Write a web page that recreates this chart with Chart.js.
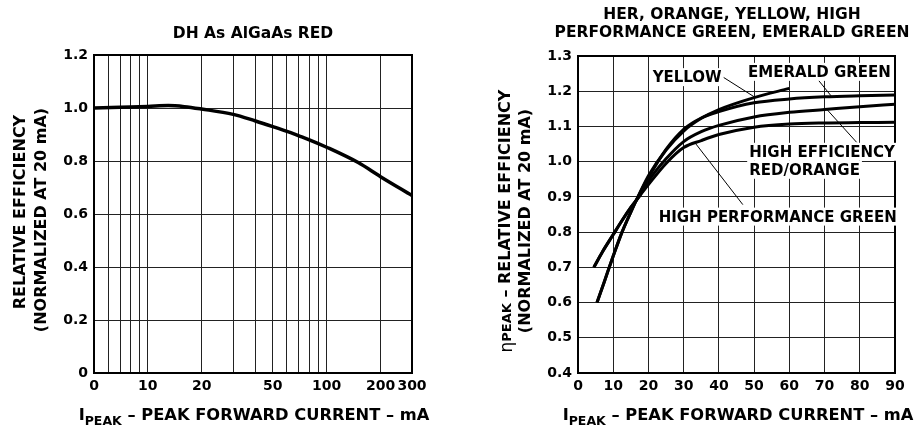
<!DOCTYPE html>
<html>
<head>
<meta charset="utf-8">
<script src="https://cdn.jsdelivr.net/npm/chart.js@4.4.0/dist/chart.umd.min.js"></script>
<style>
  body { margin: 0; background: #fff; width: 922px; height: 430px; position: relative; overflow: hidden;
         font-family: "DejaVu Sans", sans-serif; font-weight: bold; color: #000; }
  canvas { position: absolute; top: 0; }
  #c1 { left: 0; }
  #c2 { left: 460px; }
  .t { position: absolute; white-space: nowrap; text-align: center; font-size: 15.5px; line-height: 17.5px;
       transform: translate(-50%, -50%); }
  .r { transform: translate(-50%, -50%) rotate(-90deg); font-size: 16px; }
  .x { font-size: 16.3px; }
  sub { font-size: 12.5px; vertical-align: -5px; line-height: 0; }
  .r sub { font-size: 13px; vertical-align: -1px; }
  .eta { font-weight: normal; font-size: 17px; position: relative; top: 2px; }
</style>
</head>
<body>
<canvas id="c1" width="460" height="430"></canvas>
<canvas id="c2" width="462" height="430"></canvas>

<div class="t" style="left:253px;top:34px">DH As AlGaAs RED</div>
<div class="t" style="left:732px;top:23px">HER, ORANGE, YELLOW, HIGH<br>PERFORMANCE GREEN, EMERALD GREEN</div>

<div class="t r" style="left:19.5px;top:212px">RELATIVE EFFICIENCY</div>
<div class="t r" style="left:41px;top:220px">(NORMALIZED AT 20 mA)</div>
<div class="t r" style="left:505px;top:221px"><span class="eta">&eta;</span><sub>PEAK</sub> &ndash; RELATIVE EFFICIENCY</div>
<div class="t r" style="left:525px;top:221px">(NORMALIZED AT 20 mA)</div>

<div class="t x" style="left:254px;top:415px">I<sub>PEAK</sub> &ndash; PEAK FORWARD CURRENT &ndash; mA</div>
<div class="t x" style="left:738px;top:415px">I<sub>PEAK</sub> &ndash; PEAK FORWARD CURRENT &ndash; mA</div>

<script>
// left chart: DH As AlGaAs RED (log current axis)
const leftX = [5, 7, 10, 13, 16, 20, 30, 40, 50, 60, 70, 80, 100, 150, 200, 300];
const leftY = [1.0, 1.003, 1.006, 1.009, 1.005, 0.996, 0.976, 0.951, 0.930, 0.912, 0.895, 0.880, 0.852, 0.794, 0.741, 0.670];
const leftGrid = [5, 6, 7, 8, 9, 10, 20, 30, 40, 50, 60, 70, 80, 90, 100, 200, 300];
const leftLabelAt = [5, 10, 20, 50, 100, 200, 300];
const leftLabelText = ['0', '10', '20', '50', '100', '200', '300'];

// right chart: four colours, linear current axis
const yellowX  = [5.4, 7.5, 10, 12.5, 15, 17.5, 20, 25, 30, 35, 40, 50, 60];
const yellowY  = [0.60, 0.66, 0.732, 0.80, 0.857, 0.91, 0.96, 1.033, 1.087, 1.123, 1.148, 1.182, 1.208];
const emeraldX = [5.4, 7.5, 10, 12.5, 15, 17.5, 20, 25, 30, 35, 40, 50, 60, 70, 80, 90];
const emeraldY = [0.60, 0.66, 0.732, 0.80, 0.857, 0.91, 0.955, 1.035, 1.092, 1.124, 1.142, 1.167, 1.178, 1.184, 1.187, 1.189];
const herX     = [4.5, 7, 10, 12.5, 15, 17.5, 20, 25, 30, 35, 40, 50, 60, 70, 80, 90];
const herY     = [0.70, 0.745, 0.793, 0.833, 0.87, 0.903, 0.945, 1.008, 1.057, 1.085, 1.103, 1.127, 1.14, 1.148, 1.156, 1.163];
const hpgX     = [4.5, 7, 10, 12.5, 15, 17.5, 20, 25, 30, 35, 40, 50, 60, 70, 80, 90];
const hpgY     = [0.70, 0.745, 0.793, 0.833, 0.87, 0.903, 0.935, 0.995, 1.04, 1.06, 1.077, 1.098, 1.107, 1.11, 1.111, 1.112];

// curve labels and their leader lines (data coords)
const notes = [
  { text: 'YELLOW', x: 21.2, y: 1.24 },
  { text: 'EMERALD GREEN', x: 48.3, y: 1.255 },
  { text: 'HIGH EFFICIENCY', x: 48.6, y: 1.028 },
  { text: 'RED/ORANGE', x: 48.6, y: 0.977 },
  { text: 'HIGH PERFORMANCE GREEN', x: 22.9, y: 0.844 }
];
const leaders = [
  [41.2, 1.24, 50.2, 1.183],
  [68.2, 1.232, 72.0, 1.185],
  [70.6, 1.149, 79.1, 1.055],
  [33.5, 1.05, 46.8, 0.878]
];

const FONT = '"DejaVu Sans", sans-serif';
const pts = (xs, ys) => xs.map((x, i) => ({ x: x, y: ys[i] }));

const frame = {
  id: 'frame',
  beforeDatasetsDraw(chart) {
    const a = chart.chartArea, ctx = chart.ctx;
    ctx.save();
    ctx.strokeStyle = '#000';
    ctx.lineWidth = 2;
    ctx.strokeRect(a.left, a.top, a.right - a.left, a.bottom - a.top);
    ctx.restore();
  }
};

const labels = {
  id: 'labels',
  beforeDatasetsDraw(chart) {
    const ctx = chart.ctx, sx = chart.scales.x, sy = chart.scales.y;
    ctx.save();
    ctx.strokeStyle = '#000';
    ctx.lineWidth = 1;
    leaders.forEach(l => {
      ctx.beginPath();
      ctx.moveTo(sx.getPixelForValue(l[0]), sy.getPixelForValue(l[1]));
      ctx.lineTo(sx.getPixelForValue(l[2]), sy.getPixelForValue(l[3]));
      ctx.stroke();
    });
    ctx.font = 'bold 15px ' + FONT;
    ctx.textBaseline = 'middle';
    notes.forEach(n => {
      const px = sx.getPixelForValue(n.x), py = sy.getPixelForValue(n.y);
      const w = ctx.measureText(n.text).width;
      ctx.fillStyle = '#fff';
      ctx.fillRect(px - 2, py - 9, w + 4, 18);
      ctx.fillStyle = '#000';
      ctx.fillText(n.text, px, py + 1);
    });
    ctx.restore();
  }
};

const tickFont = { family: FONT, size: 14, weight: 'bold' };
const grid = { color: '#222', lineWidth: 1, drawTicks: false };
const border = { display: true, color: '#000', width: 2 };
const line = (data, w) => ({
  data: data, borderColor: '#000', borderWidth: w, pointRadius: 0,
  fill: false, cubicInterpolationMode: 'monotone'
});
const base = {
  responsive: false, animation: false, events: [],
  plugins: { legend: { display: false }, tooltip: { enabled: false } }
};

new Chart(document.getElementById('c1'), {
  type: 'line',
  data: { datasets: [line(pts(leftX, leftY), 3.5)] },
  options: Object.assign({}, base, {
    layout: { padding: { top: 55, right: 48, left: 0, bottom: 0 } },
    scales: {
      x: {
        type: 'logarithmic', min: 5, max: 300,
        grid: grid, border: border,
        afterBuildTicks: s => { s.ticks = leftGrid.map(v => ({ value: v })); },
        afterFit: s => { s.height = 57; },
        ticks: {
          autoSkip: false, maxRotation: 0, padding: 5, color: '#000', font: tickFont,
          callback: v => { const i = leftLabelAt.indexOf(v); return i < 0 ? '' : leftLabelText[i]; }
        }
      },
      y: {
        min: 0, max: 1.2,
        grid: grid, border: border,
        afterFit: s => { s.width = 94; },
        ticks: {
          stepSize: 0.2, padding: 6, color: '#000', font: tickFont,
          callback: v => v === 0 ? '0' : v.toFixed(1)
        }
      }
    }
  }),
  plugins: [frame]
});

new Chart(document.getElementById('c2'), {
  type: 'line',
  data: {
    datasets: [
      line(pts(yellowX, yellowY), 3),
      line(pts(emeraldX, emeraldY), 3),
      line(pts(herX, herY), 3),
      line(pts(hpgX, hpgY), 3)
    ]
  },
  options: Object.assign({}, base, {
    layout: { padding: { top: 56, right: 27, left: 0, bottom: 0 } },
    scales: {
      x: {
        type: 'linear', min: 0, max: 90,
        grid: grid, border: border,
        afterFit: s => { s.height = 57; },
        ticks: { stepSize: 10, autoSkip: false, maxRotation: 0, padding: 5, color: '#000', font: tickFont }
      },
      y: {
        min: 0.4, max: 1.3,
        grid: grid, border: border,
        afterFit: s => { s.width = 118; },
        ticks: { stepSize: 0.1, padding: 6, color: '#000', font: tickFont, callback: v => v.toFixed(1) }
      }
    }
  }),
  plugins: [frame, labels]
});
</script>
</body>
</html>
